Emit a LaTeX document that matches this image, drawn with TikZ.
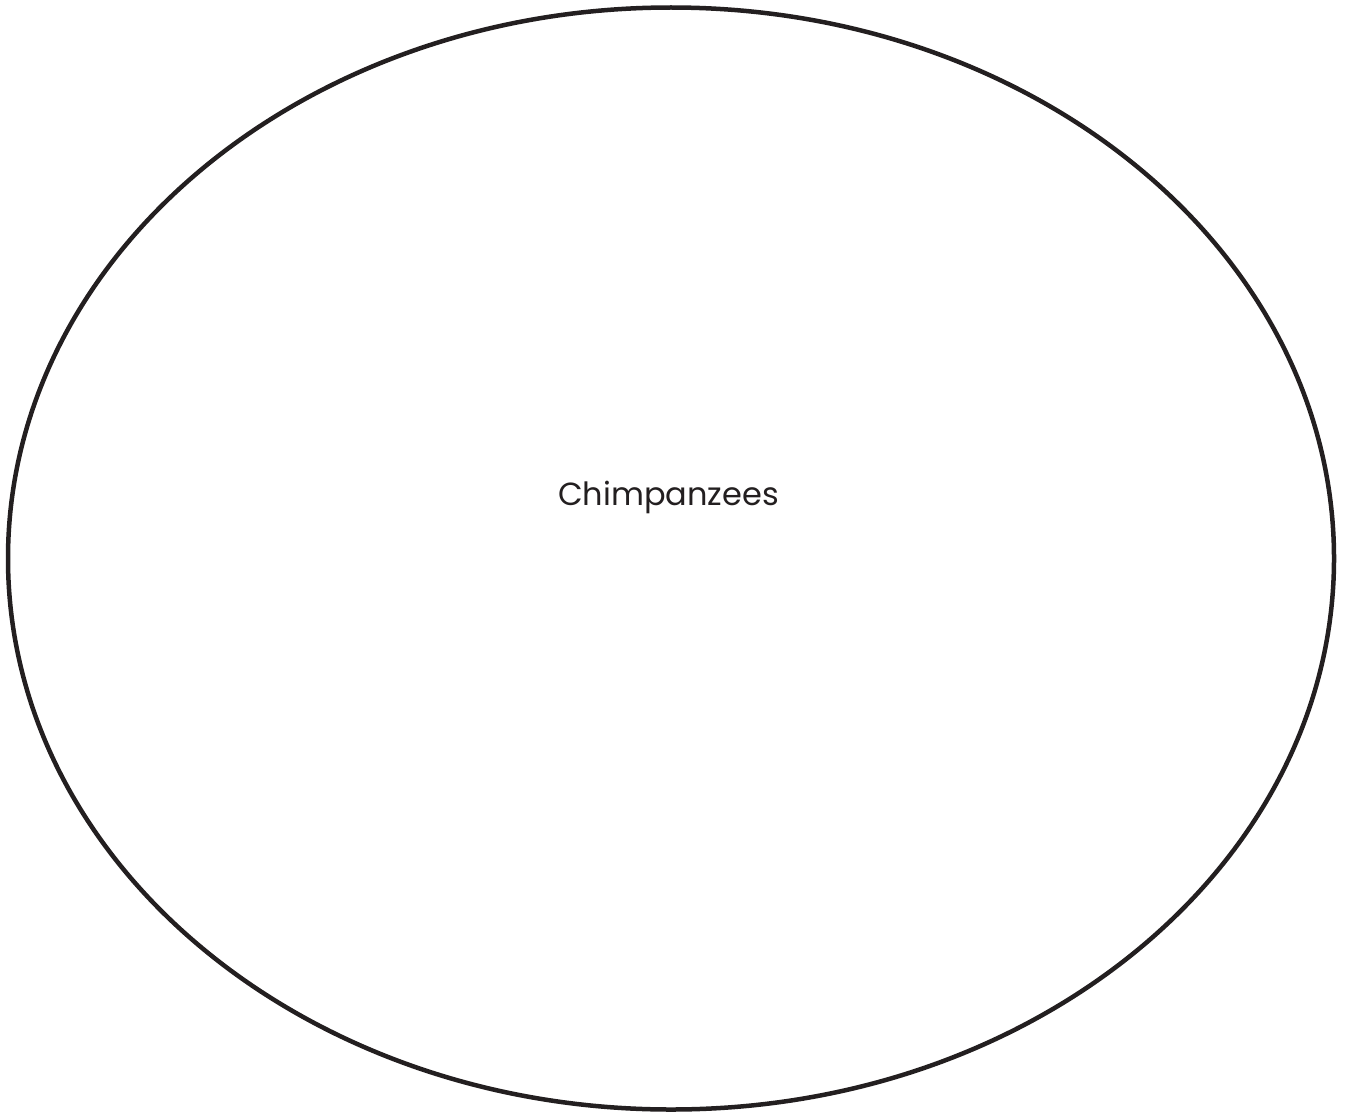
\documentclass[tikz,border=0pt]{standalone}
\usepackage{fontspec}
\usetikzlibrary{shapes.geometric}
\setmainfont{Poppins}
\definecolor{ink}{HTML}{231F20}
\begin{document}
\begin{tikzpicture}[x=1pt,y=-1pt]
\useasboundingbox (0,0) rectangle (1348,1113);
\node[draw=ink,line width=4.5pt,ellipse,minimum width=1326pt,minimum height=1102pt,inner sep=0pt] (outer) at (671,558.5) {};
\node[text=ink,font=\fontsize{32}{38}\selectfont,inner sep=0pt] (label) at (668.5,497) {Chimpanzees};
\end{tikzpicture}
\end{document}
